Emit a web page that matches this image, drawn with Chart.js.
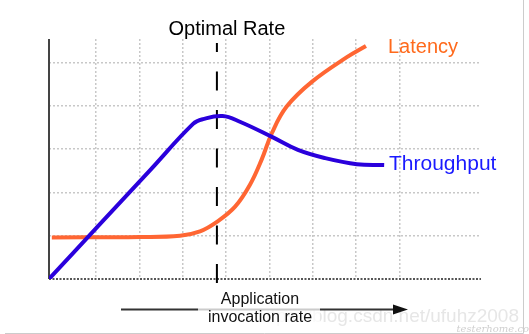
<!DOCTYPE html>
<html>
<head>
<meta charset="utf-8">
<script src="https://cdn.jsdelivr.net/npm/chart.js@4"></script>
<style>
  body { margin: 0; background: #fff; }
  #wrap { width: 529px; height: 334px; position: relative; }
</style>
</head>
<body>
<div id="wrap"><canvas id="chart"></canvas></div>
<script>
// curve data (x = invocation rate, y = level)
const throughputX = [-0.085, 1.09, 2.25, 3.24, 3.47, 3.92, 4.32, 5.06, 5.66, 6.29, 7.02, 7.65];
const throughputY = [0, 1.265, 2.514, 3.58, 3.69, 3.76, 3.63, 3.28, 2.98, 2.79, 2.65, 2.63];
const latencyX = [-0.02, 2.02, 2.94, 3.40, 3.79, 4.21, 4.55, 4.82, 5.06, 5.40, 5.98, 6.79, 7.23];
const latencyY = [0.96, 0.97, 1.00, 1.10, 1.32, 1.67, 2.17, 2.75, 3.37, 3.98, 4.55, 5.12, 5.38];
const optimalRate = 3.79;
const optimalY = [-0.09, 5.45];

const toPoints = (xs, ys) => xs.map((x, i) => ({ x: x, y: ys[i] }));

// texts + axes drawn on top
const decorations = {
    id: 'decorations',
    beforeDatasetsDraw(chart) {
        const { ctx, chartArea: a } = chart;
        ctx.save();
        // y axis solid
        ctx.strokeStyle = '#444';
        ctx.lineWidth = 2;
        ctx.beginPath();
        ctx.moveTo(a.left, a.top);
        ctx.lineTo(a.left, a.bottom);
        ctx.stroke();
        // x axis dotted
        ctx.strokeStyle = '#555';
        ctx.setLineDash([2, 1.5]);
        ctx.beginPath();
        ctx.moveTo(a.left, a.bottom);
        ctx.lineTo(a.right, a.bottom);
        ctx.stroke();
        ctx.restore();
    },
    afterDraw(chart) {
        const { ctx } = chart;
        const xs = chart.scales.x;
        ctx.save();
        ctx.font = '20px "Liberation Sans", Arial, sans-serif';
        ctx.textBaseline = 'alphabetic';
        ctx.textAlign = 'center';
        ctx.fillStyle = '#000';
        ctx.fillText('Optimal Rate', xs.getPixelForValue(optimalRate) + 10, 35);

        ctx.textAlign = 'left';
        ctx.fillStyle = '#ff6a1c';
        ctx.fillText('Latency', 388, 53);
        ctx.font = '21px "Liberation Sans", Arial, sans-serif';
        ctx.fillStyle = '#1a1aff';
        ctx.fillText('Throughput', 389, 170);

        // watermark
        ctx.textAlign = 'right';
        ctx.font = '19px "Liberation Sans", Arial, sans-serif';
        ctx.fillStyle = 'rgba(200,200,200,0.45)';
        ctx.fillText('https://blog.csdn.net/ufuhz2008', 519, 322);
        ctx.font = 'italic 10px "DejaVu Serif", serif';
        ctx.fillStyle = 'rgba(160,160,160,0.5)';
        ctx.fillText('testerhome.co', 529, 332);

        // arrow
        ctx.strokeStyle = '#333';
        ctx.lineWidth = 2;
        ctx.beginPath();
        ctx.moveTo(121, 309.5);
        ctx.lineTo(396, 309.5);
        ctx.stroke();
        ctx.fillStyle = '#111';
        ctx.beginPath();
        ctx.moveTo(393, 304.5);
        ctx.lineTo(408, 309.5);
        ctx.lineTo(393, 314.5);
        ctx.closePath();
        ctx.fill();
        ctx.fillStyle = 'rgba(255,255,255,0.75)';
        ctx.fillRect(198, 290, 122, 36);

        ctx.textAlign = 'center';
        ctx.fillStyle = '#111';
        ctx.font = '16px "Liberation Sans", Arial, sans-serif';
        ctx.fillText('Application', 260, 304);
        ctx.fillText('invocation rate', 260, 322);

        // frame
        ctx.strokeStyle = '#ccc';
        ctx.lineWidth = 1;
        ctx.beginPath();
        ctx.moveTo(5, 333.5);
        ctx.lineTo(523.5, 333.5);
        ctx.lineTo(523.5, 0);
        ctx.stroke();
        ctx.restore();
    }
};

// only whole-number grid lines, none on the axes themselves
const gridColor = c => {
    const v = c.tick ? c.tick.value : null;
    return (Number.isInteger(v) && v !== 0) ? '#c8c8c8' : 'rgba(0,0,0,0)';
};

new Chart(document.getElementById('chart'), {
    type: 'scatter',
    data: {
        datasets: [
            {
                label: 'Throughput',
                data: toPoints(throughputX, throughputY),
                showLine: true,
                borderColor: '#2a00dc',
                borderWidth: 4,
                pointRadius: 0,
                tension: 0.4
            },
            {
                label: 'Latency',
                data: toPoints(latencyX, latencyY),
                showLine: true,
                borderColor: '#ff6633',
                borderWidth: 4,
                pointRadius: 0,
                tension: 0.4
            },
            {
                label: 'Optimal Rate',
                data: optimalY.map(y => ({ x: optimalRate, y: y })),
                showLine: true,
                borderColor: '#000',
                borderWidth: 2,
                borderDash: [19, 19.5],
                pointRadius: 0,
                clip: false
            }
        ]
    },
    options: {
        responsive: true,
        maintainAspectRatio: false,
        animation: false,
        layout: { padding: { left: 49, right: 48, top: 39, bottom: 55 } },
        plugins: { legend: { display: false }, tooltip: { enabled: false } },
        scales: {
            x: {
                type: 'linear',
                min: -0.085,
                max: 9.885,
                ticks: { display: false, stepSize: 1 },
                grid: { color: gridColor, lineWidth: 1.5, drawTicks: false },
                border: { display: false, dash: [2, 2] }
            },
            y: {
                min: 0,
                max: 5.54,
                ticks: { display: false, stepSize: 1 },
                grid: { color: gridColor, lineWidth: 1.5, drawTicks: false },
                border: { display: false, dash: [2, 2] }
            }
        }
    },
    plugins: [decorations]
});
</script>
</body>
</html>
